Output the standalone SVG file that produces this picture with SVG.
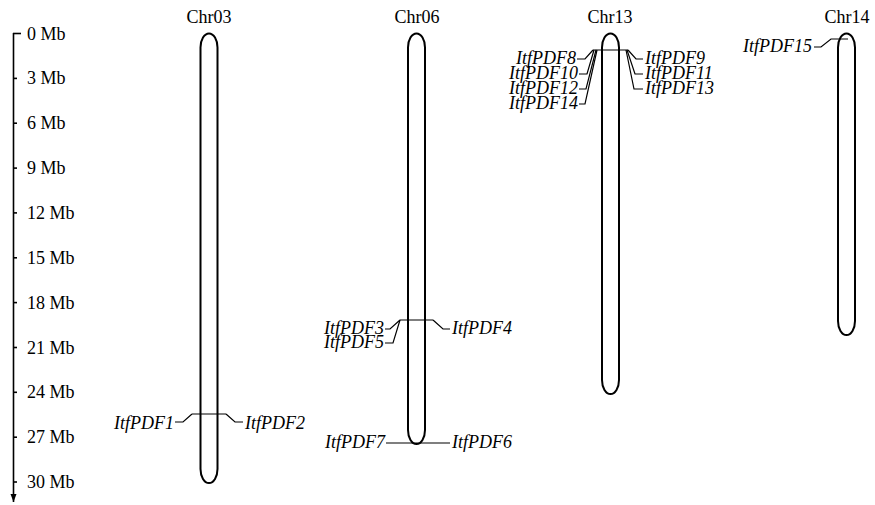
<svg xmlns="http://www.w3.org/2000/svg" width="875" height="505" viewBox="0 0 875 505">
<style>
text{font-family:"Liberation Serif","Times New Roman",serif;font-size:18px;fill:#000}
.g{font-style:italic}
.e{text-anchor:end}
.m{text-anchor:middle}
.chr{fill:#fff;stroke:#000;stroke-width:2}
.ln{fill:none;stroke:#000;stroke-width:1.2}
.ax{fill:none;stroke:#000;stroke-width:1.6}
</style>
<defs>
<marker id="arr" markerWidth="8" markerHeight="8" refX="4" refY="7" orient="auto" markerUnits="userSpaceOnUse" viewBox="0 0 8 8">
<path d="M0,0 L8,0 L4,8 Z" fill="#000"/>
</marker>
</defs>
<g id="axis">
<line class="ax" x1="13.5" y1="33" x2="13.5" y2="502"/>
<path d="M10.5,494 L16.5,494 L13.5,502 Z" fill="#000"/>
<line class="ax" x1="13" y1="33.5" x2="21" y2="33.5"/>
<g class="ax">
<line x1="13" y1="78.4" x2="17" y2="78.4"/>
<line x1="13" y1="123.2" x2="17" y2="123.2"/>
<line x1="13" y1="168.1" x2="17" y2="168.1"/>
<line x1="13" y1="212.9" x2="17" y2="212.9"/>
<line x1="13" y1="257.8" x2="17" y2="257.8"/>
<line x1="13" y1="302.6" x2="17" y2="302.6"/>
<line x1="13" y1="347.5" x2="17" y2="347.5"/>
<line x1="13" y1="392.3" x2="17" y2="392.3"/>
<line x1="13" y1="437.2" x2="17" y2="437.2"/>
<line x1="13" y1="482" x2="17" y2="482"/>
</g>
<text x="27" y="39.5">0 Mb</text>
<text x="27" y="84.4">3 Mb</text>
<text x="27" y="129.2">6 Mb</text>
<text x="27" y="174.1">9 Mb</text>
<text x="27" y="218.9">12 Mb</text>
<text x="27" y="263.8">15 Mb</text>
<text x="27" y="308.6">18 Mb</text>
<text x="27" y="353.5">21 Mb</text>
<text x="27" y="398.3">24 Mb</text>
<text x="27" y="443.2">27 Mb</text>
<text x="27" y="488">30 Mb</text>
</g>
<g id="chr03">
<rect class="chr" x="200.5" y="33.5" width="17" height="449.5" rx="8.5" ry="14"/>
<text class="m" x="209" y="23">Chr03</text>
</g>
<g id="chr06">
<rect class="chr" x="408" y="33.5" width="17" height="410.5" rx="8.5" ry="14"/>
<text class="m" x="417" y="23">Chr06</text>
</g>
<g id="chr13">
<rect class="chr" x="602" y="33.5" width="17" height="360.5" rx="8.5" ry="14"/>
<text class="m" x="610" y="23">Chr13</text>
</g>
<g id="chr14">
<rect class="chr" x="838" y="33.5" width="17" height="301.5" rx="8.5" ry="14"/>
<text class="m" x="847" y="23">Chr14</text>
</g>
<g id="connectors">
<path class="ln" d="M192,414 H226"/>
<path class="ln" d="M175,422 H183 L192,414"/>
<path class="ln" d="M226,414 L235,422 H243"/>
<path class="ln" d="M400,320 H433"/>
<path class="ln" d="M385,329 H390 L400,320"/>
<path class="ln" d="M385,343 H393 L400,320"/>
<path class="ln" d="M433,320 L443,329 H450"/>
<path class="ln" d="M386,443 H450"/>
<path class="ln" d="M593,50 H628"/>
<path class="ln" d="M577,59 H585 L593,50"/>
<path class="ln" d="M579,74 H587 L594,50"/>
<path class="ln" d="M579,89 H586 L596,50"/>
<path class="ln" d="M579,104 H585 L597,50"/>
<path class="ln" d="M628,50 L636,59 H643"/>
<path class="ln" d="M627,50 L635,74 H643"/>
<path class="ln" d="M626,50 L634,89 H643"/>
<path class="ln" d="M814,47 H821 L831,39 H848"/>
</g>
<g id="genes">
<text class="g e" x="174" y="429">ItfPDF1</text>
<text class="g" x="245" y="429">ItfPDF2</text>
<text class="g e" x="384" y="334">ItfPDF3</text>
<text class="g" x="452" y="334">ItfPDF4</text>
<text class="g e" x="384" y="348">ItfPDF5</text>
<text class="g" x="452" y="448">ItfPDF6</text>
<text class="g e" x="385" y="448">ItfPDF7</text>
<text class="g e" x="576" y="64">ItfPDF8</text>
<text class="g" x="645" y="64">ItfPDF9</text>
<text class="g e" x="578" y="79">ItfPDF10</text>
<text class="g" x="645" y="79">ItfPDF11</text>
<text class="g e" x="578" y="94">ItfPDF12</text>
<text class="g" x="645" y="94">ItfPDF13</text>
<text class="g e" x="578" y="109">ItfPDF14</text>
<text class="g e" x="812" y="52">ItfPDF15</text>
</g>
</svg>
